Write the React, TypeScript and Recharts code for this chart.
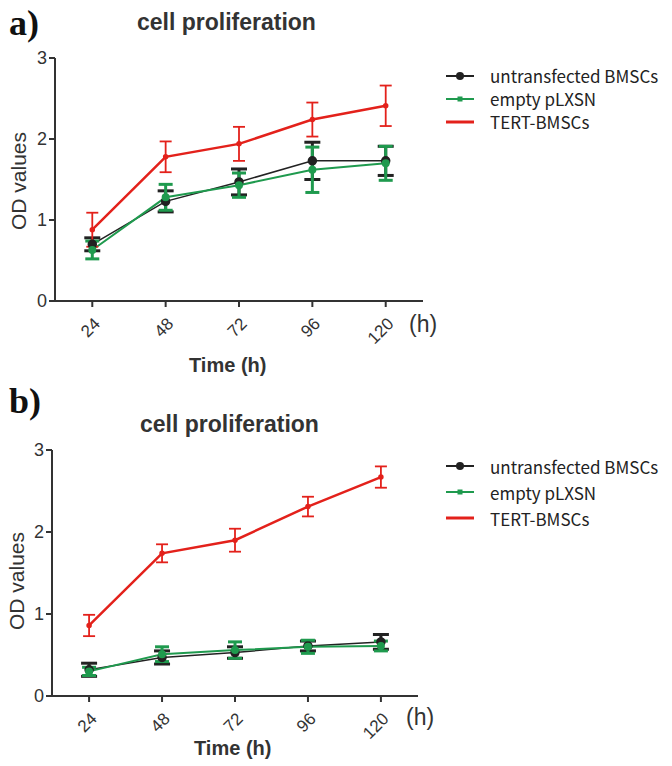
import type { ReactElement } from 'react';
import { ErrorBar, Line, LineChart, XAxis, YAxis } from 'recharts';

const times = [24, 48, 72, 96, 120];
const timeTicks = [24, 48, 72, 96, 120];
const odTicks = [0, 1, 2, 3];

// panel a
const aUntransfected = [0.7, 1.23, 1.47, 1.73, 1.73];
const aUntransfectedSd = [0.08, 0.13, 0.16, 0.23, 0.18];
const aEmpty = [0.63, 1.28, 1.43, 1.62, 1.7];
const aEmptySd = [0.11, 0.16, 0.15, 0.28, 0.21];
const aTert = [0.88, 1.78, 1.94, 2.24, 2.41];
const aTertSd = [0.21, 0.19, 0.21, 0.21, 0.25];

// panel b
const bUntransfected = [0.32, 0.47, 0.53, 0.61, 0.66];
const bUntransfectedSd = [0.08, 0.08, 0.07, 0.06, 0.09];
const bEmpty = [0.3, 0.51, 0.56, 0.6, 0.61];
const bEmptySd = [0.05, 0.09, 0.1, 0.08, 0.06];
const bTert = [0.86, 1.74, 1.9, 2.31, 2.67];
const bTertSd = [0.13, 0.11, 0.14, 0.12, 0.13];

const seriesNames = ['untransfected BMSCs', 'empty pLXSN', 'TERT-BMSCs'];

const BLACK = '#222222';
const GREEN = '#1f9a4e';
const RED = '#e3211b';
const AXIS = '#333333';
const SANS = '"Liberation Sans", Arial, sans-serif';

function buildRows(u: number[], uSd: number[], e: number[], eSd: number[], t: number[], tSd: number[]) {
    return times.map((time, i) => ({
        time,
        untransfected: u[i],
        untransfectedSd: uSd[i],
        empty: e[i],
        emptySd: eSd[i],
        tert: t[i],
        tertSd: tSd[i],
    }));
}

function LegendBox({ rowHeight }: { rowHeight: number }): ReactElement {
    const colors = [BLACK, GREEN, RED];
    return (
        <div style={{ fontFamily: '"Noto Sans CJK JP", sans-serif', fontSize: 17, color: '#222', lineHeight: 1 }}>
            {seriesNames.map((name, i) => (
                <div key={name} style={{ display: 'flex', alignItems: 'center', height: rowHeight }}>
                    <svg width={32} height={12} style={{ marginRight: 14 }}>
                        <line x1={2} y1={6} x2={30} y2={6} stroke={colors[i]} strokeWidth={i === 2 ? 3 : 2} />
                        {i === 0 && <circle cx={16} cy={6} r={4} fill={BLACK} />}
                        {i === 1 && <rect x={13.5} y={3.5} width={5} height={5} fill={GREEN} />}
                    </svg>
                    <span>{name}</span>
                </div>
            ))}
        </div>
    );
}

function XTick(props: any): ReactElement {
    const { x, y, payload } = props;
    const tx = x + 5;
    const ty = y + 12;
    return (
        <text
            x={tx}
            y={ty}
            transform={`rotate(-45, ${tx}, ${ty})`}
            textAnchor="end"
            dominantBaseline="central"
            fontSize={17}
            fontFamily={SANS}
            fill={AXIS}
        >
            {payload.value}
        </text>
    );
}

interface PanelProps {
    rows: ReturnType<typeof buildRows>;
    margin: { top: number; right: number; bottom: number; left: number };
    height: number;
}

function Panel({ rows, margin, height }: PanelProps): ReactElement {
    return (
        <LineChart width={672} height={height} data={rows} margin={margin}>
            <XAxis
                dataKey="time"
                type="number"
                domain={[11.8, 132.2]}
                ticks={timeTicks}
                height={40}
                tick={<XTick />}
                tickSize={6}
                stroke={AXIS}
                strokeWidth={2}
                interval={0}
            />
            <YAxis
                type="number"
                domain={[0, 3]}
                ticks={odTicks}
                width={40}
                tickSize={6}
                tickMargin={2}
                stroke={AXIS}
                strokeWidth={2}
                tick={{ fontSize: 18, fontFamily: SANS, fill: AXIS }}
            />
            <Line
                dataKey="untransfected"
                stroke={BLACK}
                strokeWidth={1.5}
                dot={{ r: 4, fill: BLACK, stroke: BLACK }}
                isAnimationActive={false}
            >
                <ErrorBar dataKey="untransfectedSd" width={8} stroke={BLACK} strokeWidth={3} />
            </Line>
            <Line
                dataKey="empty"
                stroke={GREEN}
                strokeWidth={2}
                dot={{ r: 3, fill: GREEN, stroke: GREEN }}
                isAnimationActive={false}
            >
                <ErrorBar dataKey="emptySd" width={7} stroke={GREEN} strokeWidth={3} />
            </Line>
            <Line
                dataKey="tert"
                stroke={RED}
                strokeWidth={2.5}
                dot={{ r: 1.5, fill: RED, stroke: RED }}
                isAnimationActive={false}
            >
                <ErrorBar dataKey="tertSd" width={6} stroke={RED} strokeWidth={1.8} />
            </Line>
        </LineChart>
    );
}

const abs = (left: number, top: number, extra: object = {}) => ({ position: 'absolute' as const, left, top, ...extra });

export default function App(): ReactElement {
    const rowsA = buildRows(aUntransfected, aUntransfectedSd, aEmpty, aEmptySd, aTert, aTertSd);
    const rowsB = buildRows(bUntransfected, bUntransfectedSd, bEmpty, bEmptySd, bTert, bTertSd);
    const panelLabel = { fontFamily: '"Liberation Serif", serif', fontWeight: 700, fontSize: 36, color: '#111', lineHeight: 1 };
    const title = { fontFamily: SANS, fontWeight: 700, fontSize: 23, color: '#333', lineHeight: 1 };
    const axisTitle = { fontFamily: SANS, fontWeight: 700, fontSize: 20, color: '#333', lineHeight: 1 };
    const yTitle = { fontFamily: SANS, fontSize: 21, color: '#333', lineHeight: 1, transform: 'rotate(-90deg)', transformOrigin: 'left top' };
    const hUnit = { fontFamily: SANS, fontSize: 23, color: '#333', lineHeight: 1 };

    return (
        <div style={{ position: 'absolute', left: 0, top: 0, width: 672, height: 766, background: '#fff', overflow: 'hidden' }}>
            <div style={abs(0, 0)}>
                <Panel rows={rowsA} height={380} margin={{ top: 58, right: 249, bottom: 39, left: 15 }} />
            </div>
            <div style={abs(0, 380)}>
                <Panel rows={rowsB} height={386} margin={{ top: 70, right: 254, bottom: 30, left: 12 }} />
            </div>

            <div style={abs(444, 64)}>
                <LegendBox rowHeight={23} />
            </div>
            <div style={abs(444, 453)}>
                <LegendBox rowHeight={26} />
            </div>

            <div style={abs(9, 5, panelLabel)}>a)</div>
            <div style={abs(137, 11, title)}>cell proliferation</div>
            <div style={abs(8, 230, yTitle)}>OD values</div>
            <div style={abs(189, 355, axisTitle)}>Time (h)</div>
            <div style={abs(409, 313, hUnit)}>(h)</div>

            <div style={abs(9, 383, panelLabel)}>b)</div>
            <div style={abs(140, 413, title)}>cell proliferation</div>
            <div style={abs(6, 630, yTitle)}>OD values</div>
            <div style={abs(194, 738, axisTitle)}>Time (h)</div>
            <div style={abs(406, 706, hUnit)}>(h)</div>
        </div>
    );
}
